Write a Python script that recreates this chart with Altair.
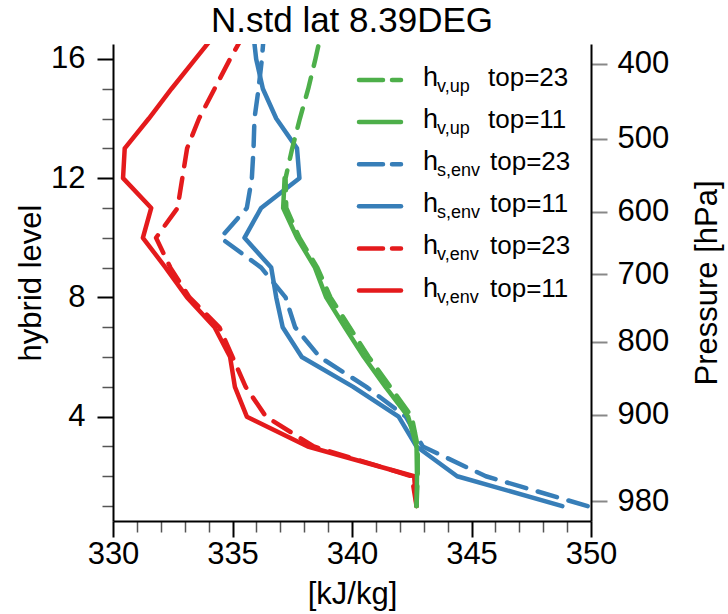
import altair as alt
import pandas as pd

# ---------------- data ----------------
LEVELS = list(range(1, 18))

hv_env_11 = [342.7, 342.6, 338.15, 335.6, 335.1, 334.9, 334.25, 333.1, 332.2, 331.25,
             331.6, 330.42, 330.49, 331.5, 332.45, 333.45, 334.45]
hv_env_23 = [342.7, 342.5, 338.4, 336.4, 335.55, 335.0, 334.45, 333.2, 332.4, 331.8,
             332.7, 332.9, 333.1, 333.6, 334.25, 334.9, 335.6]
hs_env_11 = [348.8, 344.4, 342.7, 341.95, 340.05, 337.9, 337.1, 336.83, 336.62, 335.5,
             336.2, 337.8, 337.7, 336.83, 336.27, 335.99, 335.85]
hs_env_23 = [349.86, 345.6, 342.96, 342.25, 340.6, 338.65, 337.62, 337.22, 336.2, 334.5,
             335.6, 335.81, 335.88, 335.92, 336.09, 336.23, 336.33]
hv_up_11 = [342.7, 342.72, 342.7, 342.35, 341.4, 340.5, 339.7, 338.92, 338.45, 337.7,
            337.12, 337.18]
hv_up_23 = [342.7, 342.75, 342.75, 342.5, 341.6, 340.7, 339.9, 339.1, 338.55, 337.8,
            337.25, 337.22, 337.5, 337.82, 338.17, 338.47, 338.75]

PRESSURE_LABELS = [400, 500, 600, 700, 800, 900, 980]
PRESSURE_LEVELS = [15.83, 13.33, 10.87, 8.78, 6.52, 4.06, 1.17]

X_TICKS = list(range(330, 351))
Y_TICKS = list(range(1, 17))

TITLE = "N.std lat 8.39DEG"

RED, BLUE, GREEN = "#E41A1C", "#377EB8", "#4DAF4A"

# legend order (top to bottom)
LEGEND = [
    ("v,up", "top=23", GREEN, True, hv_up_23),
    ("v,up", "top=11", GREEN, False, hv_up_11),
    ("s,env", "top=23", BLUE, True, hs_env_23),
    ("s,env", "top=11", BLUE, False, hs_env_11),
    ("v,env", "top=23", RED, True, hv_env_23),
    ("v,env", "top=11", RED, False, hv_env_11),
]

FONT = "Liberation Sans"
W, H = 478, 477
DASH = [20, 12]
LW = 4.5

x_enc = alt.X(
    "value:Q",
    scale=alt.Scale(domain=[330, 350], nice=False, zero=False),
    axis=alt.Axis(
        values=X_TICKS,
        title="[kJ/kg]",
        titleY=82,
        titleBaseline="alphabetic",
        labelExpr="datum.value % 5 === 0 ? datum.label : ''",
        tickSize={"condition": {"test": "datum.value % 5 === 0", "value": 16}, "value": 11},
        tickWidth={"condition": {"test": "datum.value % 5 === 0", "value": 2}, "value": 1.5},
        tickColor={"condition": {"test": "datum.value % 5 === 0", "value": "#000"}, "value": "#555"},
        labelPadding=2,
        labelFlush=False,
        labelOverlap=False,
    ),
)

y_enc = alt.Y(
    "level:Q",
    scale=alt.Scale(domain=[0.5, 16.5], nice=False, zero=False),
    axis=alt.Axis(
        values=Y_TICKS,
        title="hybrid level",
        titleX=-73,
        titleBaseline="alphabetic",
        labelExpr="datum.value % 4 === 0 ? datum.label : ''",
        tickSize={"condition": {"test": "datum.value % 4 === 0", "value": 16}, "value": 11},
        tickWidth={"condition": {"test": "datum.value % 4 === 0", "value": 2}, "value": 1.5},
        tickColor={"condition": {"test": "datum.value % 4 === 0", "value": "#000"}, "value": "#555"},
        labelPadding=12,
        labelOverlap=False,
    ),
)


def line_layer(vals, color, dashed):
    df = pd.DataFrame({"level": LEVELS[: len(vals)], "value": vals})
    kw = dict(clip=True, color=color, strokeWidth=LW, strokeCap="round", strokeJoin="round")
    if dashed:
        kw["strokeDash"] = DASH
    return alt.Chart(df).mark_line(**kw).encode(x=x_enc, y=y_enc, order="level:Q")


# draw order: red at the bottom, green on top
draw_order = [5, 4, 3, 2, 1, 0]
lines = [line_layer(LEGEND[i][4], LEGEND[i][2], LEGEND[i][3]) for i in draw_order]

# ---------------- custom legend (subscripted labels) ----------------
one = pd.DataFrame({"k": [0]})
legend_layers = []
ROW0, DROW = 36, 42.1
for i, (sub, top, color, dashed, _) in enumerate(LEGEND):
    yc = ROW0 + DROW * i
    kw = dict(color=color, strokeWidth=LW, strokeCap="round")
    if dashed:
        kw["strokeDash"] = [24, 9]
    legend_layers.append(
        alt.Chart(one).mark_rule(**kw).encode(x=alt.value(246), x2=alt.value(288), y=alt.value(yc))
    )
    legend_layers.append(
        alt.Chart(one).mark_text(text="h", align="left", baseline="alphabetic", fontSize=27,
                                 font=FONT, color="black")
        .encode(x=alt.value(310), y=alt.value(yc + 6))
    )
    legend_layers.append(
        alt.Chart(one).mark_text(text=sub, align="left", baseline="alphabetic", fontSize=18,
                                 font=FONT, color="black")
        .encode(x=alt.value(324), y=alt.value(yc + 12))
    )
    legend_layers.append(
        alt.Chart(one).mark_text(text=top, align="left", baseline="alphabetic", fontSize=26,
                                 font=FONT, color="black")
        .encode(x=alt.value(375 if sub == "v,up" else 377), y=alt.value(yc + 6))
    )

# title drawn as text above the plot area
title_layer = alt.Chart(one).mark_text(
    text=TITLE, align="center", baseline="alphabetic", fontSize=35, font=FONT, color="black"
).encode(x=alt.value(W / 2), y=alt.value(-12))

main = alt.layer(*lines, *legend_layers, title_layer)

# ---------------- right pressure axis ----------------
pdf = pd.DataFrame({"level": PRESSURE_LEVELS, "p": PRESSURE_LABELS})
right = alt.Chart(pdf).mark_point(opacity=0).encode(
    x=alt.value(0),
    y=alt.Y(
        "level:Q",
        scale=alt.Scale(domain=[0.5, 16.5], nice=False, zero=False),
        axis=alt.Axis(
            orient="right",
            values=PRESSURE_LEVELS,
            labelExpr=f"{PRESSURE_LABELS}[indexof({PRESSURE_LEVELS}, datum.value)]",
            title="Pressure [hPa]",
            titleAngle=270,
            titleX=125,
            titleBaseline="alphabetic",
            tickSize=16,
            tickWidth=2,
            labelPadding=10,
            labelOverlap=False,
        ),
    ),
)

chart = (
    alt.layer(main, right)
    .resolve_scale(y="independent")
    .properties(
        width=W,
        height=H,
        autosize=alt.AutoSizeParams(type="none"),
        padding={"left": 113, "top": 44, "right": 137, "bottom": 93},
    )
    .configure_view(stroke=None)
    .configure_axis(
        grid=False,
        domainColor="black",
        domainWidth=2,
        labelFont=FONT,
        labelFontSize=31,
        labelColor="black",
        titleFont=FONT,
        titleFontSize=31,
        titleFontWeight="normal",
        titleColor="black",
    )
)

chart.save("out.html", embed_options={"renderer": "svg", "actions": False})
